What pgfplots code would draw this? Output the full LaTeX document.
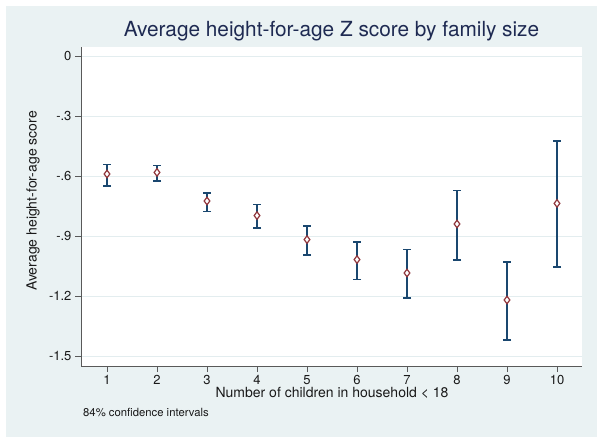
\documentclass[border=0pt]{standalone}
\usepackage{fontspec}
\setmainfont{TeX Gyre Heros}
\usepackage{pgfplots}
\pgfplotsset{compat=1.18}
\usepackage{pgfplotstable}
\definecolor{stbg}{HTML}{EAF2F3}
\definecolor{stgrid}{HTML}{E3EDEF}
\definecolor{stnavy}{HTML}{1A476F}
\definecolor{stmaroon}{HTML}{90353B}
\definecolor{sttitle}{HTML}{1E2A52}
\pgfplotstableread{
x y ep em
1 -0.590 0.048 0.060
2 -0.582 0.035 0.043
3 -0.725 0.040 0.052
4 -0.798 0.055 0.062
5 -0.918 0.068 0.077
6 -1.018 0.088 0.100
7 -1.085 0.117 0.125
8 -0.840 0.168 0.180
9 -1.220 0.190 0.200
10 -0.737 0.312 0.318
}\data
\begin{document}
\begin{tikzpicture}[x=1pt,y=1pt]
\fill[white] (0,0) rectangle (604,442);
\fill[stbg] (6,5) rectangle (597,436);
\begin{axis}[
  at={(81pt,76pt)}, anchor=south west,
  scale only axis, width=501pt, height=319pt,
  xmin=0.48, xmax=10.5, ymin=-1.55, ymax=0.045,
  axis background/.style={fill=white},
  axis x line*=bottom, axis y line*=left,
  axis line style={draw=black!65, line width=0.8pt},
  xtick={1,2,3,4,5,6,7,8,9,10},
  xticklabels={1,2,3,4,5,6,7,8,9,10},
  ytick={-1.5,-1.2,-0.9,-0.6,-0.3,0},
  yticklabels={-1.5,-1.2,-.9,-.6,-.3,0},
  tick align=outside, major tick length=6pt,
  tick style={draw=black!65, line width=0.7pt},
  ymajorgrids, grid style={draw=stgrid, line width=0.8pt},
  /pgf/number format/assume math mode=true,
  tick label style={font=\fontsize{13}{15}\selectfont, text=black!90},
  clip=false,
]
\addplot[draw=none, mark=none, forget plot,
  error bars/.cd, y dir=both, y explicit,
  error bar style={stnavy, line width=1.4pt},
  error mark options={rotate=90, stnavy, line width=1.4pt, mark size=4pt}]
  table[x=x, y=y, y error plus=ep, y error minus=em]{\data};
\addplot[only marks, mark=diamond*, mark size=3.8pt,
  mark options={draw=stmaroon, fill=white, line width=1.2pt}]
  table[x=x, y=y]{\data};
\end{axis}
\node[text=sttitle, font=\fontsize{20.8}{24}\selectfont] at (331.5,410.5) {Average height-for-age Z score by family size};
\node[text=black!90, font=\fontsize{14}{16}\selectfont] at (332,49) {Number of children in household \textless{} 18};
\node[text=black!90, font=\fontsize{14}{16}\selectfont, rotate=90] at (33,241) {Average height-for-age score};
\node[text=black!90, font=\fontsize{11.3}{13}\selectfont, anchor=west, inner sep=0pt] at (83,30) {84\% confidence intervals};
\end{tikzpicture}
\end{document}
